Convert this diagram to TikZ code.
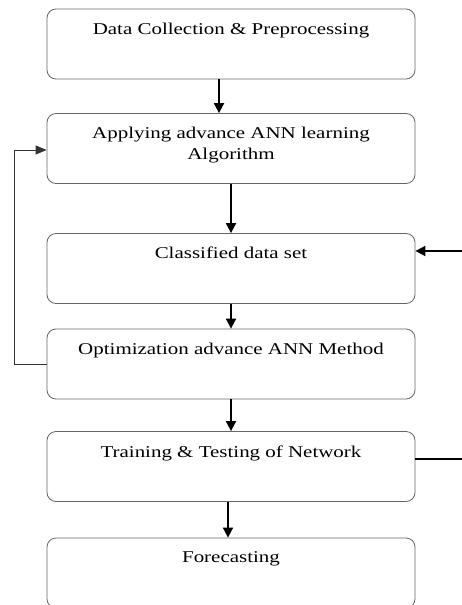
\documentclass[tikz,border=0pt]{standalone}
\usepackage{fontspec}
\setmainfont{Liberation Serif}[FakeStretch=1.27]
\usetikzlibrary{arrows.meta,calc}

\tikzset{
  stage/.style={draw=black!60, line width=0.8pt, rounded corners=9pt, minimum width=368pt, minimum height=70pt, inner sep=0pt},
  stagetext/.style={anchor=north, inner sep=0pt, align=center, font=\fontsize{16.5}{20.5}\selectfont},
  flow/.style={-{Triangle[width=10pt,length=10pt]}, line width=1.8pt},
  feedback/.style={-{Triangle[width=9pt,length=11pt]}, line width=0.9pt, draw=black!80},
}

\begin{document}
\begin{tikzpicture}[x=1pt,y=1pt]
\useasboundingbox (0,0) rectangle (462,-605);
% stages
\node[stage] (b1) at (231,-44) {};
\node[stage] (b2) at (231,-148.5) {};
\node[stage] (b3) at (231,-268.5) {};
\node[stage] (b4) at (231,-364) {};
\node[stage] (b5) at (231,-466.5) {};
\node[stage] (b6) at (231,-573) {};
\node[stagetext] (t1) at ([yshift=-14pt]b1.north) {Data Collection \& Preprocessing};
\node[stagetext] (t2) at ([yshift=-14pt]b2.north) {Applying advance ANN learning\\Algorithm};
\node[stagetext] (t3) at ([yshift=-13.5pt]b3.north) {Classified data set};
\node[stagetext] (t4) at ([yshift=-14.5pt]b4.north) {Optimization advance ANN Method};
\node[stagetext] (t5) at ([yshift=-14.5pt]b5.north) {Training \& Testing of Network};
\node[stagetext] (t6) at ([yshift=-14pt]b6.north) {Forecasting};
% main flow
\draw[flow] ([xshift=-12pt]b1.south) -- ([xshift=-12pt]b2.north);
\draw[flow] (b2.south) -- (b3.north);
\draw[flow] (b3.south) -- (b4.north);
\draw[flow] (b4.south) -- (b5.north);
\draw[flow] ([xshift=-3pt]b5.south) -- ([xshift=-3pt]b6.north);
% loop back
\coordinate (fb) at (14,-150);
\draw[feedback] (b4.west) -| (fb) -- (fb -| b2.west);
% right side
\coordinate (r1) at (462,-251);
\draw[flow] (r1) -- (r1 -| b3.east);
\coordinate (r2) at (462,-459);
\draw[line width=1.8pt] (r2 -| b5.east) -- (r2);
\end{tikzpicture}
\end{document}
